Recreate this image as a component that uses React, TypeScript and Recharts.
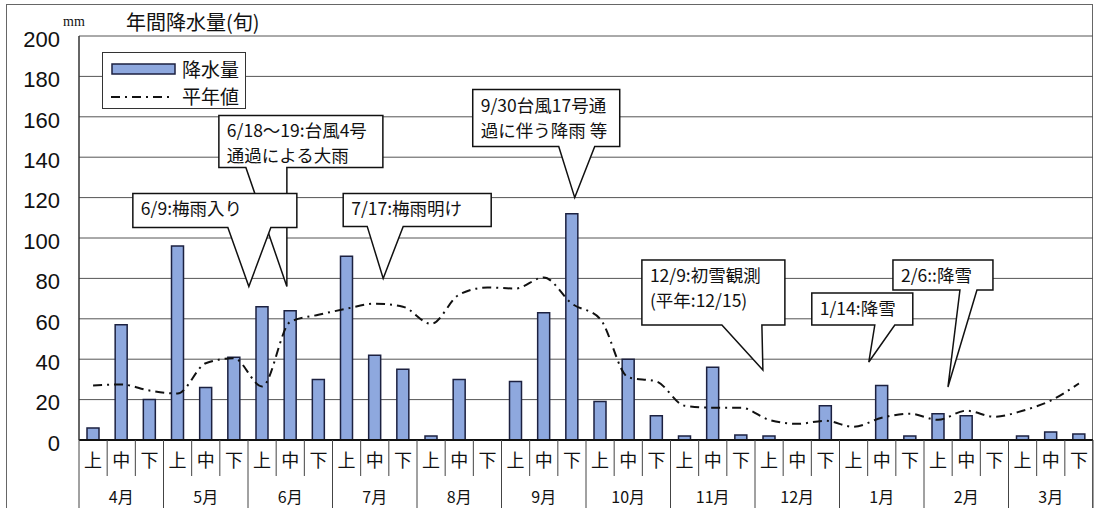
import React from "react";
import {
  ComposedChart,
  Bar,
  Line,
  XAxis,
  YAxis,
  CartesianGrid,
  ReferenceDot,
  Legend,
} from "recharts";

// 旬ごとの降水量 (4月上旬 〜 3月下旬)
const months = ["4月", "5月", "6月", "7月", "8月", "9月", "10月", "11月", "12月", "1月", "2月", "3月"];
const dekads = ["上", "中", "下"];
const precipitation = [
  6, 57, 20, 96, 26, 41, 66, 64, 30, 91, 42, 35,
  2, 30, 0, 29, 63, 112, 19, 40, 12, 2, 36, 2.5,
  2, 0, 17, 0, 27, 2, 13, 12, 0, 2, 4, 3,
];
const normal = [
  27, 27.5, 24.5, 23, 38, 40.5, 26.5, 58.5, 62, 65, 67.5, 66,
  57.5, 72, 75.5, 75, 80.5, 67.5, 60, 31, 29, 17, 16, 16,
  10, 8, 9.5, 6.5, 11, 13, 10, 14.5, 11.5, 14.5, 19.5, 28,
];
const yTicks = [0, 20, 40, 60, 80, 100, 120, 140, 160, 180, 200];

// 吹き出し: 先端の位置 (旬単位, mm)
const notes = [
  { text: ["6/18～19:台風4号", "通過による大雨"], x: 7.38, y: 76 },
  { text: ["6/9:梅雨入り"], x: 6.03, y: 76 },
  { text: ["7/17:梅雨明け"], x: 10.8, y: 80 },
  { text: ["9/30台風17号通", "過に伴う降雨 等"], x: 17.6, y: 120 },
  { text: ["12/9:初雪観測", "(平年:12/15)"], x: 24.28, y: 34.7 },
  { text: ["1/14:降雪"], x: 28.04, y: 38.6 },
  { text: ["2/6::降雪"], x: 30.85, y: 26.2 },
];
// box: [left, right, top, bottom] relative to the tip, base: pointer foot
const noteBoxes = [
  { box: [-68, 96, -171, -119], base: [-41, 0] },
  { box: [-116, 48, -93, -59], base: [-21, 22] },
  { box: [-40, 108, -85, -52], base: [-16, 20] },
  { box: [-102, 45, -108, -51], base: [-16, 20] },
  { box: [-121, 22, -110, -45], base: [-41, -1] },
  { box: [-57, 44, -69, -37], base: [6, 26] },
  { box: [-55, 45, -127, -97], base: [12, 29] },
];

const data = precipitation.map((v, i) => ({
  id: months[Math.floor(i / 3)] + dekads[i % 3],
  pos: i + 0.5,
  precip: v,
  normal: normal[i],
}));

const W = 1095;
const H = 508;
const MARGIN = { top: 36, right: 2, left: 9, bottom: 0 };
const Y_W = 70;
const X_H = 68;
const PLOT_L = MARGIN.left + Y_W;
const PLOT_W = W - MARGIN.right - PLOT_L;
const AXIS_Y = H - X_H;
const BAND = PLOT_W / 36;

const JP = '"Noto Sans CJK JP", "Noto Sans", sans-serif';
const BAR_FILL = "#8ea8de";
const BAR_STROKE = "#1c2140";

const DekadTick = (props: any) => {
  const { x, index } = props;
  const d = index % 3;
  const left = x - BAND / 2;
  return (
    <g>
      <line x1={left} x2={left} y1={AXIS_Y} y2={d === 0 ? H : AXIS_Y + 36} stroke="#444" strokeWidth={1} />
      {index === 35 && <line x1={x + BAND / 2} x2={x + BAND / 2} y1={AXIS_Y} y2={H} stroke="#444" strokeWidth={1} />}
      <text x={x} y={AXIS_Y + 27} textAnchor="middle" fontSize={18} fontFamily={JP} fill="#111">
        {dekads[d]}
      </text>
      {d === 1 && (
        <text x={x} y={AXIS_Y + 63} textAnchor="middle" fontSize={16} fontFamily={JP} fill="#111">
          {months[Math.floor(index / 3)]}
        </text>
      )}
    </g>
  );
};

const Callout = ({ cx, cy, i }: { cx: number; cy: number; i: number }) => {
  const [l, r, t, b] = noteBoxes[i].box;
  const [b1, b2] = noteBoxes[i].base;
  const path = `M${cx + l},${cy + t} H${cx + r} V${cy + b} H${cx + b2} L${cx},${cy} L${cx + b1},${cy + b} H${cx + l} Z`;
  const lines = notes[i].text;
  return (
    <g>
      <path d={path} fill="#fff" stroke="#111" strokeWidth={1.5} strokeLinejoin="miter" />
      {lines.map((s, k) => (
        <text
          key={k}
          x={cx + l + 8}
          y={cy + t + 22 + k * 25}
          fontSize={17.5}
          fontFamily={JP}
          fill="#111"
        >
          {s}
        </text>
      ))}
    </g>
  );
};

const LegendBox = () => (
  <div
    style={{
      width: 142,
      height: 55,
      border: "1px solid #333",
      background: "#fff",
      position: "relative",
    }}
  >
    <svg width={142} height={55} style={{ position: "absolute", left: 0, top: 0, overflow: "visible" }}>
      <rect x={9} y={11} width={63} height={10} fill={BAR_FILL} stroke={BAR_STROKE} strokeWidth={1.5} />
      <line x1={8} x2={70} y1={44} y2={44} stroke="#111" strokeWidth={2} strokeDasharray="9 5 2 5" />
      <text x={79} y={24} fontSize={19} fontFamily={JP} fill="#111">降水量</text>
      <text x={79} y={51} fontSize={19} fontFamily={JP} fill="#111">平年値</text>
    </svg>
  </div>
);

export default function App() {
  return (
    <div style={{ position: "absolute", left: 0, top: 0, width: W, height: H, background: "#fff", overflow: "hidden" }}>
      <div
        style={{
          position: "absolute",
          left: 6,
          top: 4,
          width: 1087,
          height: 520,
          border: "1px solid #666",
          boxSizing: "border-box",
        }}
      />
      <div style={{ position: "absolute", left: 63, top: 14, fontFamily: '"Liberation Serif", serif', fontSize: 14, color: "#111" }}>
        mm
      </div>
      <div style={{ position: "absolute", left: 126, top: 7, fontFamily: JP, fontSize: 20, color: "#111" }}>
        年間降水量(旬)
      </div>
      <ComposedChart width={W} height={H} data={data} margin={MARGIN}>
        <CartesianGrid vertical={false} stroke="#555" strokeWidth={1} />
        <XAxis
          xAxisId="cat"
          dataKey="id"
          height={X_H}
          interval={0}
          tickLine={false}
          tickSize={0}
          tickMargin={0}
          axisLine={{ stroke: "#111", strokeWidth: 2 }}
          tick={<DekadTick />}
        />
        <XAxis
          xAxisId="ann"
          dataKey="pos"
          type="number"
          domain={[0, 36]}
          allowDataOverflow
          hide
          height={0}
          axisLine={false}
          tick={false}
        />
        <YAxis
          width={Y_W}
          domain={[0, 200]}
          ticks={yTicks}
          interval={0}
          tickLine={false}
          tickSize={0}
          tickMargin={19}
          axisLine={{ stroke: "#333", strokeWidth: 1.5 }}
          tick={{ fontSize: 22, fill: "#111", fontFamily: '"Liberation Sans", Arial, sans-serif', dy: 3 }}
        />
        <Legend
          layout="vertical"
          align="center"
          verticalAlign="middle"
          content={<LegendBox />}
          wrapperStyle={{ left: 102, top: 52, width: 144, height: 57 }}
        />
        <Bar
          xAxisId="cat"
          dataKey="precip"
          name="降水量"
          barSize={12}
          fill={BAR_FILL}
          stroke={BAR_STROKE}
          strokeWidth={1.5}
          isAnimationActive={false}
        />
        <Line
          xAxisId="cat"
          dataKey="normal"
          name="平年値"
          type="monotone"
          stroke="#111"
          strokeWidth={2}
          strokeDasharray="9 5 2 5"
          dot={false}
          activeDot={false}
          isAnimationActive={false}
        />
        {notes.map((n, i) => (
          <ReferenceDot
            key={i}
            xAxisId="ann"
            x={n.x}
            y={n.y}
            r={0}
            ifOverflow="visible"
            shape={(p: any) => <Callout cx={p.cx} cy={p.cy} i={i} />}
          />
        ))}
      </ComposedChart>
    </div>
  );
}
